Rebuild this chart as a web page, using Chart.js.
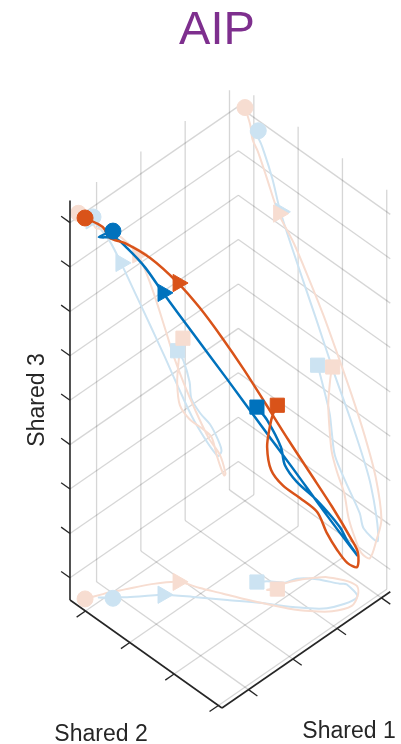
<!DOCTYPE html>
<html>
<head>
<meta charset="utf-8">
<script src="https://cdn.jsdelivr.net/npm/chart.js@4.4.1/dist/chart.umd.min.js"></script>
<style>
  html, body { margin: 0; padding: 0; background: #fff; }
  canvas { display: block; }
</style>
</head>
<body>
<canvas id="aipChart" width="401" height="744"></canvas>
<script>
// axis limits and ticks, in shared-component units
const shared1Limits = [-0.6, 3.2];
const shared2Limits = [-0.35, 3.08];
const shared3Limits = [-0.5, 8.5];
const shared1Ticks = [0, 1, 2, 3];
const shared2Ticks = [0, 1, 2, 3];
const shared3Ticks = [0, 1, 2, 3, 4, 5, 6, 7, 8];

// orange trajectory
const orangeShared1 = [-0.41, -0.13, -0.02, 0.20, 0.57, 0.93, 1.08, 1.25, 1.41, 1.58, 1.76, 1.97, 2.22, 2.53,
  2.78, 2.91, 2.88, 2.80, 2.71, 2.59, 2.36, 2.10, 1.88, 1.82, 1.85, 1.89, 1.95];
const orangeShared2 = [-0.20, -0.08, -0.03, 0.09, 0.29, 0.56, 0.90, 1.24, 1.57, 1.89, 2.21, 2.50, 2.75, 2.88,
  2.77, 2.62, 2.43, 2.28, 2.14, 2.04, 1.88, 1.76, 1.71, 1.68, 1.71, 1.74, 1.78];
const orangeShared3 = [8.08, 7.77, 7.48, 7.30, 6.85, 6.23, 5.81, 5.25, 4.66, 4.00, 3.31, 2.61, 1.85, 0.99,
  0.45, -0.07, -0.09, 0.15, 0.49, 0.98, 1.34, 1.71, 2.18, 2.72, 3.17, 3.45, 3.64];
const orangeMarks = [0, 5, 26];

// blue trajectory
const blueShared1 = [-0.08, -0.23, -0.04, 0.10, 0.32, 0.55, 0.86, 1.20, 1.53, 1.84, 2.21, 2.73, 2.82, 2.75,
  2.56, 2.34, 2.14, 2.10, 1.96, 1.83];
const blueShared2 = [0.10, -0.07, 0.11, 0.24, 0.42, 0.60, 0.97, 1.40, 1.81, 2.24, 2.64, 2.80, 2.48, 2.39,
  2.06, 1.83, 1.76, 1.71, 1.54, 1.44];
const blueShared3 = [7.77, 7.62, 7.59, 7.36, 6.91, 6.30, 5.43, 4.47, 3.53, 2.62, 1.59, 0.45, 0.50, 0.78,
  1.28, 1.68, 2.15, 2.55, 3.13, 3.44];
const blueMarks = [0, 5, 19];

const ORANGE = '#D95319';
const BLUE = '#0072BD';
const ORANGE_LIGHT = '#F7DDD1';
const BLUE_LIGHT = '#CCE3F2';
const GRID = 'rgba(38,38,38,0.19)';
const AXIS = '#262626';

const [lo1, hi1] = shared1Limits;
const [lo2, hi2] = shared2Limits;
const [lo3, hi3] = shared3Limits;

// fixed 3-D view: shared 1 runs up-right, shared 2 down-right, shared 3 up
function view(s1, s2, s3) {
  const a = s1 - lo1, b = s2 - lo2, c = s3 - lo3;
  return { x: a + b, y: c + 0.689 * a - 0.709 * b };
}

function segment(p, q, color, width, order) {
  return {
    data: [view(...p), view(...q)],
    showLine: true, borderColor: color, borderWidth: width,
    pointRadius: 0, tension: 0, order: order
  };
}

const datasets = [];

// grid on the two back walls and the floor
shared1Ticks.forEach(t => {
  datasets.push(segment([t, lo2, lo3], [t, lo2, hi3], GRID, 1.3, 9));
  datasets.push(segment([t, lo2, lo3], [t, hi2, lo3], GRID, 1.3, 9));
});
shared2Ticks.forEach(t => {
  datasets.push(segment([hi1, t, lo3], [hi1, t, hi3], GRID, 1.3, 9));
  datasets.push(segment([lo1, t, lo3], [hi1, t, lo3], GRID, 1.3, 9));
});
shared3Ticks.forEach(t => {
  datasets.push(segment([lo1, lo2, t], [hi1, lo2, t], GRID, 1.3, 9));
  datasets.push(segment([hi1, lo2, t], [hi1, hi2, t], GRID, 1.3, 9));
});

// axis lines and tick marks
const tickLen = 0.2;
datasets.push(segment([lo1, lo2, lo3], [lo1, lo2, hi3], AXIS, 1.6, 3));
datasets.push(segment([lo1, lo2, lo3], [lo1, hi2, lo3], AXIS, 1.6, 3));
datasets.push(segment([lo1, hi2, lo3], [hi1, hi2, lo3], AXIS, 1.6, 3));
shared3Ticks.forEach(t => datasets.push(segment([lo1, lo2, t], [lo1, lo2 - tickLen, t], AXIS, 1.3, 3)));
shared2Ticks.forEach(t => datasets.push(segment([lo1, t, lo3], [lo1 - tickLen, t, lo3], AXIS, 1.3, 3)));
shared1Ticks.forEach(t => datasets.push(segment([t, hi2, lo3], [t, hi2 + tickLen, lo3], AXIS, 1.3, 3)));

function trajectory(s1, s2, s3, marks, color, width, order) {
  const pts = s1.map((v, i) => view(v, s2[i], s3[i]));
  datasets.push({
    data: pts, showLine: true, borderColor: color, borderWidth: width,
    pointRadius: 0, tension: 0.3, order: order
  });
  datasets.push({
    data: marks.map(i => pts[i]), showLine: false,
    pointStyle: ['circle', 'triangle', 'rect'],
    rotation: [0, 90, 0],
    pointRadius: [8, 10, 10],
    backgroundColor: color, borderColor: color, borderWidth: 1,
    order: order - 1
  });
}

// shadows on the floor and the two walls
[[orangeShared1, orangeShared2, orangeShared3, orangeMarks, ORANGE_LIGHT],
 [blueShared1, blueShared2, blueShared3, blueMarks, BLUE_LIGHT]].forEach(([s1, s2, s3, marks, col]) => {
  trajectory(s1, s2, s1.map(() => lo3), marks, col, 2, 6);
  trajectory(s1, s1.map(() => lo2), s3, marks, col, 2, 6);
  trajectory(s1.map(() => hi1), s2, s3, marks, col, 2, 6);
});

trajectory(orangeShared1, orangeShared2, orangeShared3, orangeMarks, ORANGE, 2.5, 2);
trajectory(blueShared1, blueShared2, blueShared3, blueMarks, BLUE, 2.5, 2);

const textLabels = {
  id: 'textLabels',
  afterDraw(chart) {
    const ctx = chart.ctx;
    ctx.save();
    ctx.textAlign = 'center';
    ctx.textBaseline = 'alphabetic';
    ctx.fillStyle = '#7E2F8E';
    ctx.font = '47px "Liberation Sans", Arial, sans-serif';
    ctx.fillText('AIP', 217, 44);
    ctx.fillStyle = AXIS;
    ctx.font = '23px "Liberation Sans", Arial, sans-serif';
    ctx.fillText('Shared 2', 101, 741);
    ctx.fillText('Shared 1', 349, 738);
    ctx.translate(44, 400);
    ctx.rotate(-Math.PI / 2);
    ctx.fillText('Shared 3', 0, 0);
    ctx.restore();
  }
};

new Chart(document.getElementById('aipChart').getContext('2d'), {
  type: 'scatter',
  data: { datasets: datasets },
  options: {
    responsive: false,
    animation: false,
    events: [],
    layout: { padding: 0, autoPadding: false },
    scales: {
      x: { type: 'linear', display: false, min: -1.580, max: 7.472 },
      y: { type: 'linear', display: false, min: -3.243, max: 13.514 }
    },
    plugins: {
      legend: { display: false },
      tooltip: { enabled: false }
    }
  },
  plugins: [textLabels]
});
</script>
</body>
</html>
